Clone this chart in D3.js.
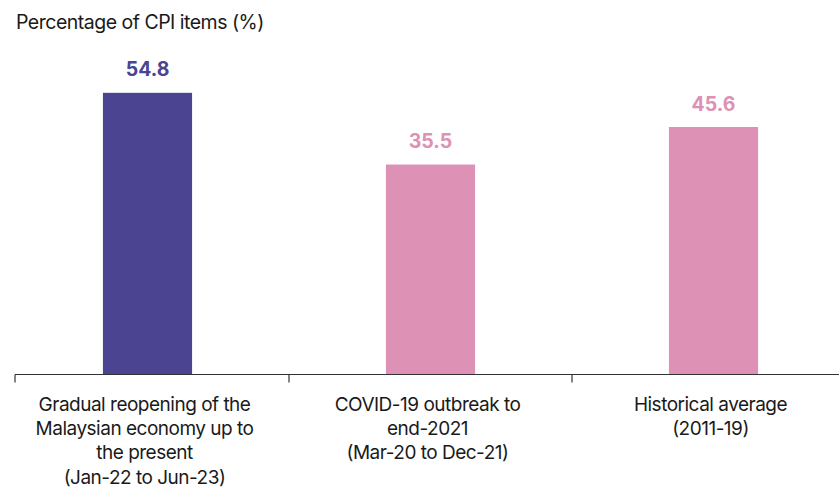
<!DOCTYPE html>
<html>
<head>
<meta charset="utf-8">
<script src="https://cdn.jsdelivr.net/npm/d3@7"></script>
<style>
  html, body { margin: 0; padding: 0; background: #fff; }
  svg { display: block; font-family: Inter, "Liberation Sans", sans-serif; }
</style>
</head>
<body>
<svg id="chart" width="839" height="490"></svg>
<script>
// Share of CPI items, by period
const categories = [
  ["Gradual reopening of the", "Malaysian economy up to", "the present", "(Jan-22 to Jun-23)"],
  ["COVID-19 outbreak to", "end-2021", "(Mar-20 to Dec-21)"],
  ["Historical average", "(2011-19)"]
];
const values = [54.8, 35.5, 45.6];
const barColors = ["#4b4591", "#dd91b5", "#dd91b5"];
const yDomain = [-21, 60];
const axisTitle = "Percentage of CPI items (%)";

const svg = d3.select("#chart");
const axisLeft = 15, axisRight = 839;

const ids = categories.map((_, i) => i);
const x = d3.scaleBand().domain(ids).range([6, 855]).padding(0);
const barW = x.bandwidth() * 0.315;
const y = d3.scaleLinear().domain(yDomain).range([374.5, 73.5]);
const base = y(yDomain[0]);

// Title
svg.append("text")
  .attr("x", 16).attr("y", 28.5)
  .attr("font-size", 19.5)
  .attr("letter-spacing", -0.5)
  .attr("fill", "#1a1a1a")
  .text(axisTitle);

// Bars
svg.selectAll("rect.bar").data(values).join("rect")
  .attr("class", "bar")
  .attr("x", (d, i) => x(i) + x.bandwidth() / 2 - barW / 2)
  .attr("width", barW)
  .attr("y", d => y(d))
  .attr("height", d => base - y(d))
  .attr("fill", (d, i) => barColors[i]);

// Value labels
svg.selectAll("text.val").data(values).join("text")
  .attr("class", "val")
  .attr("x", (d, i) => x(i) + x.bandwidth() / 2)
  .attr("y", d => y(d) - 16.5)
  .attr("text-anchor", "middle")
  .attr("font-size", 19.5)
  .attr("font-weight", 700)
  .attr("fill", (d, i) => barColors[i])
  .text(d => d3.format(".1f")(d));

// Baseline axis with ticks at band boundaries
svg.append("line")
  .attr("x1", axisLeft).attr("x2", axisRight)
  .attr("y1", base).attr("y2", base)
  .attr("stroke", "#333").attr("stroke-width", 1.2);

const tickXs = ids.map(i => Math.max(axisLeft, x(i)));
svg.selectAll("line.tick").data(tickXs).join("line")
  .attr("class", "tick")
  .attr("x1", d => d).attr("x2", d => d)
  .attr("y1", base).attr("y2", base + 8)
  .attr("stroke", "#333").attr("stroke-width", 1.2);

// Category labels
const lab = svg.selectAll("text.cat").data(categories).join("text")
  .attr("class", "cat")
  .attr("text-anchor", "middle")
  .attr("font-size", 19)
  .attr("letter-spacing", -0.5)
  .attr("fill", "#1a1a1a");
lab.each(function(lines, i) {
  const t = d3.select(this);
  lines.forEach((ln, k) => {
    t.append("tspan")
      .attr("x", x(i) + x.bandwidth() / 2 - 3)
      .attr("y", 411 + k * 24.2)
      .text(ln);
  });
});
</script>
</body>
</html>
